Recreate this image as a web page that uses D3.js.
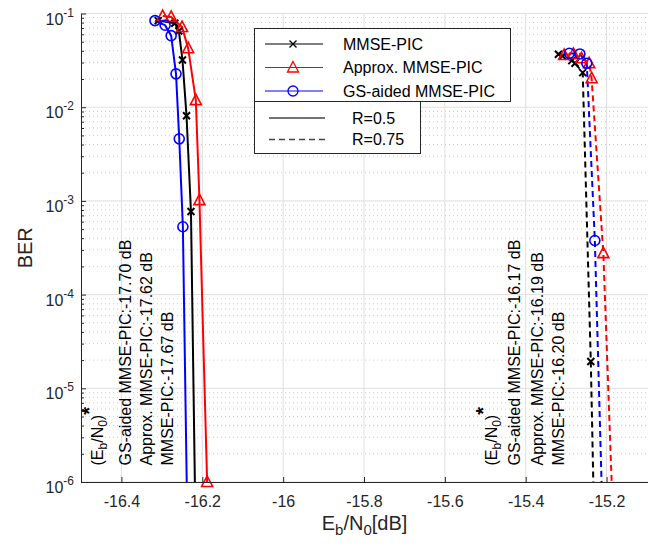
<!DOCTYPE html>
<html>
<head>
<meta charset="utf-8">
<script src="https://cdn.jsdelivr.net/npm/d3@7"></script>
<style>
  body { margin: 0; background: #fff; }
  svg { font-family: 'Liberation Sans', Arial, sans-serif; }
</style>
</head>
<body>
<div id="chart"></div>
<script>
// tick values
const xTicks = [-16.4, -16.2, -16, -15.8, -15.6, -15.4, -15.2]
const yTicks = [1e-1, 1e-2, 1e-3, 1e-4, 1e-5, 1e-6]

// R = 0.5 (solid)
const mmseR05X = [-16.309, -16.268, -16.258, -16.249, -16.239, -16.228, -16.215]
const mmseR05Ber = [0.084, 0.0786, 0.065, 0.0319, 0.0081, 7.7e-4, 1e-7]
const approxR05X = [-16.298, -16.277, -16.250, -16.235, -16.216, -16.207, -16.188]
const approxR05Ber = [0.094, 0.092, 0.0717, 0.0426, 0.0119, 1.02e-3, 1e-6]
const gsR05X = [-16.317, -16.292, -16.277, -16.265, -16.257, -16.248, -16.235]
const gsR05Ber = [0.084, 0.075, 0.058, 0.0227, 0.0046, 5.3e-4, 1e-7]

// R = 0.75 (dashed)
const mmseR075X = [-15.319, -15.309, -15.286, -15.278, -15.259, -15.239, -15.228]
const mmseR075Ber = [0.0367, 0.0352, 0.0314, 0.0294, 0.0234, 1.93e-5, 1e-7]
const approxR075X = [-15.305, -15.282, -15.262, -15.243, -15.237, -15.208, -15.179]
const approxR075Ber = [0.036, 0.037, 0.0333, 0.0294, 0.0204, 2.77e-4, 1e-7]
const gsR075X = [-15.292, -15.266, -15.249, -15.229, -15.206]
const gsR075Ber = [0.0376, 0.037, 0.0294, 3.78e-4, 1e-7]

const legendSeries = ['MMSE-PIC', 'Approx. MMSE-PIC', 'GS-aided MMSE-PIC']
const legendRates = ['R=0.5', 'R=0.75']

const annoLeft = ['GS-aided MMSE-PIC:-17.70 dB', 'Approx. MMSE-PIC:-17.62 dB', 'MMSE-PIC:-17.67 dB']
const annoRight = ['GS-aided MMSE-PIC:-16.17 dB', 'Approx. MMSE-PIC:-16.19 dB', 'MMSE-PIC:-16.20 dB']
const annoLeftX = [-16.46, -16.391, -16.339, -16.287]
const annoRightX = [-15.485, -15.427, -15.372, -15.318]
const annoY = 1.5e-6

const width = 657
const height = 549
const plot = { left: 81, right: 648, top: 13.5, bottom: 482 }
const axisColor = '#262626'

const zip = (xs, ys) => xs.map((x, i) => ({ x, y: ys[i] }))

const series = [
  { data: zip(mmseR05X, mmseR05Ber), color: '#000', marker: 'x', dash: null },
  { data: zip(approxR05X, approxR05Ber), color: '#ff0000', marker: 'tri', dash: null },
  { data: zip(gsR05X, gsR05Ber), color: '#0000ff', marker: 'circle', dash: null },
  { data: zip(mmseR075X, mmseR075Ber), color: '#000', marker: 'x', dash: '6,4' },
  { data: zip(approxR075X, approxR075Ber), color: '#ff0000', marker: 'tri', dash: '6,4' },
  { data: zip(gsR075X, gsR075Ber), color: '#0000ff', marker: 'circle', dash: '6,4' }
]

const svg = d3.select('#chart')
  .append('svg')
    .attr('width', width)
    .attr('height', height)

const x = d3.scaleLinear()
  .domain([-16.5, -15.1])
  .range([plot.left, plot.right - 1])

const y = d3.scaleLog()
  .domain([1e-6, 1e-1])
  .range([plot.bottom, plot.top])

const minorY = []
for (let k = -6; k < -1; k++) {
  for (let m = 2; m <= 9; m++) minorY.push(m * Math.pow(10, k))
}

// grid
const grid = svg.append('g')
grid.selectAll('.minor')
  .data(minorY)
  .enter()
  .append('line')
    .attr('x1', plot.left).attr('x2', plot.right)
    .attr('y1', d => y(d)).attr('y2', d => y(d))
    .attr('stroke', '#cfcfcf')
    .attr('stroke-dasharray', '1,3')
grid.selectAll('.hmajor')
  .data(yTicks)
  .enter()
  .append('line')
    .attr('x1', plot.left).attr('x2', plot.right)
    .attr('y1', d => y(d)).attr('y2', d => y(d))
    .attr('stroke', '#dfdfdf')
grid.selectAll('.vmajor')
  .data(xTicks)
  .enter()
  .append('line')
    .attr('x1', d => x(d)).attr('x2', d => x(d))
    .attr('y1', plot.top).attr('y2', plot.bottom)
    .attr('stroke', '#dfdfdf')

svg.append('clipPath')
    .attr('id', 'clip')
  .append('rect')
    .attr('x', plot.left).attr('y', plot.top)
    .attr('width', plot.right - plot.left)
    .attr('height', plot.bottom - plot.top)

const line = d3.line()
  .x(d => x(d.x))
  .y(d => y(d.y))

const markerPath = {
  x: 'M-3.5,-3.5L3.5,3.5M-3.5,3.5L3.5,-3.5',
  tri: 'M0,-6L5.5,4.5L-5.5,4.5Z',
  circle: 'M5,0A5,5 0 1,1 -5,0A5,5 0 1,1 5,0Z'
}

series.forEach(s => {
  svg.append('path')
    .datum(s.data)
    .attr('clip-path', 'url(#clip)')
    .attr('d', line)
    .attr('fill', 'none')
    .attr('stroke', s.color)
    .attr('stroke-width', 2)
    .attr('stroke-dasharray', s.dash)
})

series.forEach(s => {
  svg.append('g')
    .selectAll('path')
    .data(s.data.filter(d => d.y >= 1e-6))
    .enter()
    .append('path')
      .attr('transform', d => `translate(${x(d.x)},${y(d.y)})`)
      .attr('d', markerPath[s.marker])
      .attr('fill', 'none')
      .attr('stroke', s.color)
      .attr('stroke-width', s.marker === 'x' ? 2 : 1.6)
})

// rotated annotations
const drawEbN0 = xv => {
  const t = svg.append('text')
    .attr('transform', `translate(${x(xv)},${y(annoY)}) rotate(-90)`)
    .attr('dy', '0.35em')
    .attr('font-size', 16)
    .attr('fill', '#000')
  t.append('tspan').text('(E')
  t.append('tspan').attr('font-size', 12).attr('dy', 4).text('b')
  t.append('tspan').attr('dy', -4).text('/N')
  t.append('tspan').attr('font-size', 12).attr('dy', 4).text('0')
  t.append('tspan').attr('dy', -4).text(')')
  t.append('tspan').attr('font-size', 20).attr('dy', -7).attr('font-weight', 'bold').text('*')
}

const drawAnno = (labels, xs) => {
  drawEbN0(xs[0])
  svg.append('g')
    .selectAll('text')
    .data(labels)
    .enter()
    .append('text')
      .attr('transform', (d, i) => `translate(${x(xs[i + 1])},${y(annoY)}) rotate(-90)`)
      .attr('dy', '0.35em')
      .attr('font-size', 16)
      .attr('fill', '#000')
      .text(d => d)
}
drawAnno(annoLeft, annoLeftX)
drawAnno(annoRight, annoRightX)

// axes
const xAxis = svg.append('g')
  .attr('transform', `translate(0,${plot.bottom})`)
  .call(d3.axisBottom(x)
    .tickValues(xTicks)
    .tickSizeInner(-5)
    .tickSizeOuter(0)
    .tickPadding(14)
    .tickFormat(d => String(d)))
xAxis.select('.domain').attr('d', `M${plot.left},0.5H${plot.right}`)
xAxis.selectAll('line').attr('stroke', axisColor)
xAxis.selectAll('.domain').attr('stroke', axisColor)
xAxis.selectAll('text')
  .attr('font-size', 16)
  .attr('font-family', null)
  .attr('fill', axisColor)

const yAxis = svg.append('g')
  .attr('transform', `translate(${plot.left},0)`)
  .call(d3.axisLeft(y)
    .tickValues(yTicks)
    .tickSizeInner(-5)
    .tickSizeOuter(0)
    .tickFormat(''))
yAxis.selectAll('line').attr('stroke', axisColor)
yAxis.selectAll('.domain').attr('stroke', axisColor)

const yMinor = svg.append('g')
  .attr('transform', `translate(${plot.left},0)`)
  .call(d3.axisLeft(y)
    .tickValues(minorY)
    .tickSizeInner(-3)
    .tickSizeOuter(0)
    .tickFormat(''))
yMinor.select('.domain').remove()
yMinor.selectAll('line').attr('stroke', axisColor)

const yLabels = svg.append('g')
  .selectAll('text')
  .data(yTicks)
  .enter()
  .append('text')
    .attr('x', 74)
    .attr('y', d => y(d) + 11)
    .attr('text-anchor', 'end')
    .attr('font-size', 16)
    .attr('fill', axisColor)
yLabels.append('tspan').text('10')
yLabels.append('tspan')
  .attr('dy', -8)
  .attr('font-size', 12)
  .text(d => String(Math.round(Math.log10(d))))

svg.append('text')
  .attr('transform', `translate(32,${(plot.top + plot.bottom) / 2}) rotate(-90)`)
  .attr('text-anchor', 'middle')
  .attr('font-size', 20)
  .attr('fill', axisColor)
  .text('BER')

const xl = svg.append('text')
  .attr('x', (plot.left + plot.right) / 2)
  .attr('y', 530)
  .attr('text-anchor', 'middle')
  .attr('font-size', 20)
  .attr('fill', axisColor)
xl.append('tspan').text('E')
xl.append('tspan').attr('font-size', 15).attr('dy', 5).text('b')
xl.append('tspan').attr('dy', -5).text('/N')
xl.append('tspan').attr('font-size', 15).attr('dy', 5).text('0')
xl.append('tspan').attr('dy', -5).text('[dB]')

// legend
const legend = svg.append('g')
legend.append('rect')
  .attr('x', 254.5).attr('y', 28.5)
  .attr('width', 256).attr('height', 73)
  .attr('fill', '#fff')
  .attr('stroke', axisColor)
legend.append('rect')
  .attr('x', 254.5).attr('y', 101.5)
  .attr('width', 166).attr('height', 52)
  .attr('fill', '#fff')
  .attr('stroke', axisColor)

const legendRows = legend.selectAll('.row')
  .data(legendSeries)
  .enter()
  .append('g')
    .attr('transform', (d, i) => `translate(0,${44 + i * 23.5})`)
legendRows.append('line')
  .attr('x1', 265).attr('x2', 323)
  .attr('stroke', (d, i) => series[i].color)
  .attr('stroke-width', 1.2)
legendRows.append('path')
  .attr('transform', 'translate(293,0)')
  .attr('d', (d, i) => markerPath[series[i].marker])
  .attr('fill', 'none')
  .attr('stroke', (d, i) => series[i].color)
  .attr('stroke-width', 1.3)
legendRows.append('text')
  .attr('x', 343)
  .attr('dy', '0.35em')
  .attr('font-size', 16)
  .text(d => d)

const rateRows = legend.selectAll('.rate')
  .data(legendRates)
  .enter()
  .append('g')
    .attr('transform', (d, i) => `translate(0,${118 + i * 21.5})`)
rateRows.append('line')
  .attr('x1', 269).attr('x2', 325)
  .attr('stroke', '#444')
  .attr('stroke-width', 1.3)
  .attr('stroke-dasharray', (d, i) => i === 1 ? '6,4' : null)
rateRows.append('text')
  .attr('x', 352)
  .attr('dy', '0.35em')
  .attr('font-size', 16)
  .text(d => d)
</script>
</body>
</html>
